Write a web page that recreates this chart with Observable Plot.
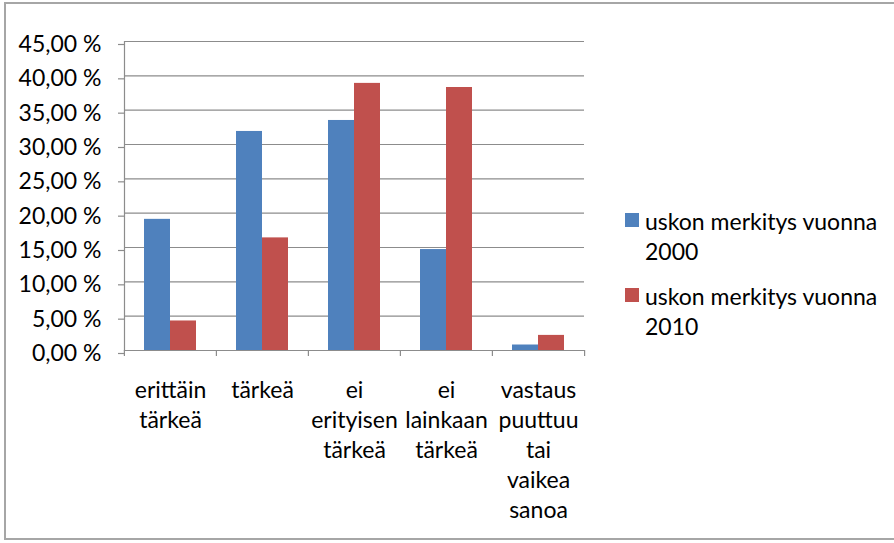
<!DOCTYPE html>
<html>
<head>
<meta charset="utf-8">
<script src="https://cdn.jsdelivr.net/npm/d3@7"></script>
<script src="https://cdn.jsdelivr.net/npm/@observablehq/plot@0.6"></script>
<style>
  html, body { margin: 0; padding: 0; background: #fff; }
  #wrap { position: relative; width: 894px; height: 543px; overflow: hidden; font-family: Lato, sans-serif; }
  #border { position: absolute; left: 4px; top: 2px; width: 1000px; height: 538px; border: 2px solid #a6a6a6; box-sizing: border-box; }
  #chart { position: absolute; left: 0; top: 0; }
  .lg-sw { position: absolute; width: 14px; height: 14px; }
  .lg-tx { position: absolute; font-size: 23px; line-height: 30px; color: #000; white-space: nowrap; }
</style>
</head>
<body>
<div id="wrap">
  <div id="border"></div>
  <div id="chart"></div>
  <div id="legend"></div>
</div>
<script>
// ---- data ----
const categories = ["erittäin tärkeä", "tärkeä", "ei erityisen tärkeä", "ei lainkaan tärkeä", "vastaus puuttuu tai vaikea sanoa"];
const series = ["uskon merkitys vuonna 2000", "uskon merkitys vuonna 2010"];
const values2000 = [19.1, 31.9, 33.5, 14.7, 0.8];
const values2010 = [4.3, 16.4, 38.9, 38.3, 2.2];
const yTicks = [0, 5, 10, 15, 20, 25, 30, 35, 40, 45];
const colors = ["#4f81bd", "#c0504d"];

const rows = [];
categories.forEach((c, i) => {
  rows.push({category: c, series: series[0], value: values2000[i]});
  rows.push({category: c, series: series[1], value: values2010[i]});
});

const W = 894, H = 543, mL = 123, mR = 310, mT = 41, mB = 193;
const step = (W - mL - mR) / categories.length;
const gray = "#8c8c8c";
const fmt = d => d.toFixed(2).replace(".", ",") + " %";

const chart = Plot.plot({
  width: W, height: H,
  marginLeft: mL, marginRight: mR, marginTop: mT, marginBottom: mB,
  style: {fontFamily: "Lato, sans-serif", fontSize: "23px", color: "#000", background: "transparent"},
  fx: {domain: categories, paddingInner: 0, paddingOuter: 0, axis: null, label: null},
  x: {domain: series, paddingInner: 0, paddingOuter: 0.74, axis: null, label: null},
  y: {domain: [0, 45], label: null, axis: null},
  color: {domain: series, range: colors},
  marks: [
    Plot.gridY(yTicks, {stroke: gray, strokeOpacity: 1, strokeWidth: 1.2}),
    Plot.axisY({ticks: yTicks, tickSize: 6, tickPadding: 17, stroke: gray, strokeWidth: 1.2, tickFormat: fmt, dy: 3, fill: "#000", label: null}),
    Plot.frame({anchor: "left", stroke: gray, strokeWidth: 1.2, facetAnchor: "left"}),
    Plot.barY(rows, {fx: "category", x: "series", y: "value", fill: "series"}),
    Plot.ruleY([0], {stroke: gray, strokeWidth: 1.2}),
    Plot.axisFx({anchor: "bottom", tickSize: 6, dx: -step / 2, stroke: gray, strokeWidth: 1.2, tickFormat: () => "", label: null}),
    Plot.axisFx({anchor: "bottom", ticks: [categories[categories.length - 1]], tickSize: 6, dx: step / 2, stroke: gray, strokeWidth: 1.2, tickFormat: () => "", label: null}),
    Plot.axisFx({anchor: "bottom", tickSize: 0, tickPadding: 26, lineHeight: 30 / 23, fill: "#000", tickFormat: d => d.split(" ").join("\n"), label: null})
  ]
});
document.getElementById("chart").appendChild(chart);

// ---- legend (HTML) ----
const legend = document.getElementById("legend");
const lgTop = [213, 288];
series.forEach((s, i) => {
  const sw = document.createElement("div");
  sw.className = "lg-sw";
  sw.style.left = "625px";
  sw.style.top = lgTop[i] + "px";
  sw.style.background = colors[i];
  legend.appendChild(sw);
  const tx = document.createElement("div");
  tx.className = "lg-tx";
  tx.style.left = "645px";
  tx.style.top = (lgTop[i] - 7) + "px";
  const parts = s.split(" ");
  tx.innerHTML = parts.slice(0, 3).join(" ") + "<br>" + parts[3];
  legend.appendChild(tx);
});
</script>
</body>
</html>
